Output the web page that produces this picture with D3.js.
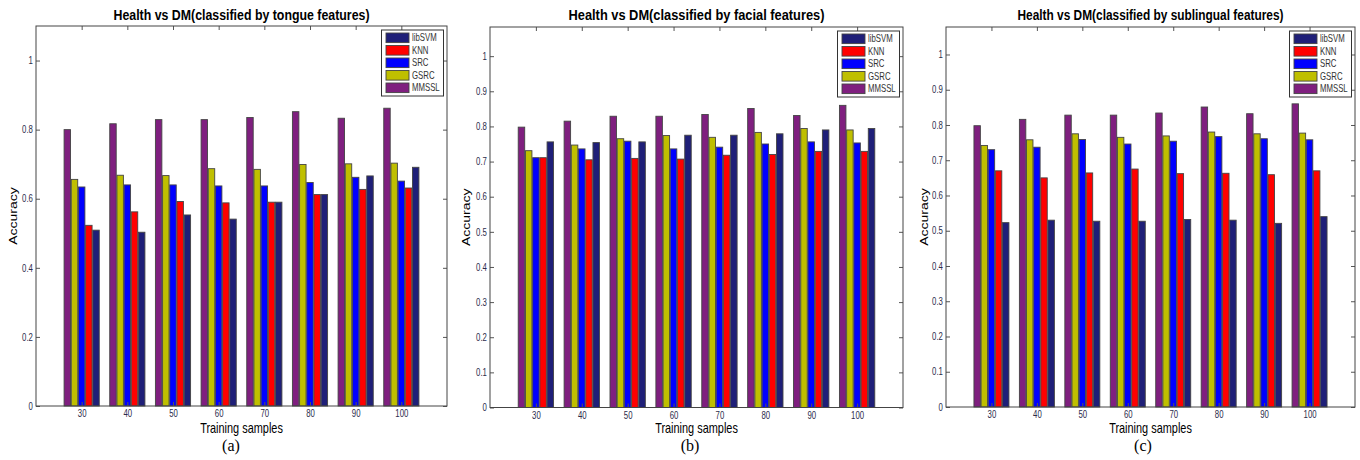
<!DOCTYPE html>
<html>
<head>
<meta charset="utf-8">
<script src="https://cdn.jsdelivr.net/npm/d3@7"></script>
<style>
  body { margin: 0; background: #fff; }
  svg { display: block; }
</style>
</head>
<body>
<script>
"use strict";

// data

const samples = [30, 40, 50, 60, 70, 80, 90, 100];
const methods = ['libSVM', 'KNN', 'SRC', 'GSRC', 'MMSSL'];
// bars are drawn in the reverse order of the legend
const barOrder = ['MMSSL', 'GSRC', 'SRC', 'KNN', 'libSVM'];
const methodColors = ['#1f1f78', '#ff0000', '#0000ff', '#bfbf00', '#7f1f7f'];

// rows follow `methods`
const tongueAcc = [
    [0.509, 0.503, 0.553, 0.541, 0.590, 0.612, 0.666, 0.691],
    [0.523, 0.562, 0.592, 0.588, 0.590, 0.612, 0.627, 0.631],
    [0.634, 0.640, 0.640, 0.637, 0.637, 0.647, 0.662, 0.651],
    [0.656, 0.668, 0.667, 0.687, 0.685, 0.699, 0.701, 0.703],
    [0.800, 0.817, 0.829, 0.829, 0.835, 0.852, 0.833, 0.862]
];
const facialAcc = [
    [0.756, 0.754, 0.756, 0.775, 0.775, 0.779, 0.790, 0.794],
    [0.711, 0.705, 0.709, 0.707, 0.718, 0.720, 0.729, 0.729],
    [0.711, 0.736, 0.758, 0.736, 0.741, 0.750, 0.756, 0.753],
    [0.731, 0.747, 0.765, 0.774, 0.769, 0.783, 0.794, 0.790],
    [0.798, 0.815, 0.829, 0.829, 0.834, 0.851, 0.831, 0.860]
];
const sublingualAcc = [
    [0.523, 0.530, 0.527, 0.527, 0.532, 0.530, 0.521, 0.540],
    [0.670, 0.650, 0.664, 0.675, 0.662, 0.663, 0.659, 0.670],
    [0.730, 0.737, 0.759, 0.746, 0.754, 0.767, 0.761, 0.758],
    [0.742, 0.758, 0.775, 0.765, 0.769, 0.780, 0.775, 0.777],
    [0.798, 0.816, 0.828, 0.828, 0.834, 0.851, 0.832, 0.860]
];

const tongueTicks = [0, 0.2, 0.4, 0.6, 0.8, 1];
const fineTicks = [0, 0.1, 0.2, 0.3, 0.4, 0.5, 0.6, 0.7, 0.8, 0.9, 1];

// layout

const W = 1360, H = 460;
const squeeze = 'scale(0.78,1)';   // the figure is narrowed horizontally
const sans = 'Liberation Sans, Arial, sans-serif';

const panels = [
    {title: 'Health vs DM(classified by tongue features)', titleW: 256, acc: tongueAcc, ticks: tongueTicks,
     yMax: 1.1, box: {l: 36, t: 26, r: 447, b: 406}, tag: '(a)', tagX: 231, ylabX: 17},
    {title: 'Health vs DM(classified by facial features)', titleW: 256, acc: facialAcc, ticks: fineTicks,
     yMax: 1.083, box: {l: 490, t: 27, r: 903, b: 407.5}, tag: '(b)', tagX: 690, ylabX: 470},
    {title: 'Health vs DM(classified by sublingual features)', titleW: 266, acc: sublingualAcc, ticks: fineTicks,
     yMax: 1.078, box: {l: 946, t: 27, r: 1355, b: 407}, tag: '(c)', tagX: 1143, ylabX: 928}
];

const svg = d3.select('body')
    .append('svg')
    .attr('width', W)
    .attr('height', H);

const color = d3.scaleOrdinal().domain(methods).range(methodColors);

const squeezeText = (sel) => {
    sel.each(function () {
        const t = d3.select(this);
        t.attr('transform', (t.attr('transform') || '') + ' ' + squeeze);
    });
};

panels.forEach((p) => {
    const b = p.box;
    const g = svg.append('g');

    const x = d3.scaleLinear().domain([0, samples.length + 1]).range([b.l, b.r]);
    const y = d3.scaleLinear().domain([0, p.yMax]).range([b.b, b.t]);
    const groupW = (x(1) - x(0)) * 0.77;
    const inner = d3.scaleBand()
        .domain(barOrder)
        .range([-groupW / 2, groupW / 2])
        .paddingInner(0.1);

    // bars
    const rows = [];
    samples.forEach((s, i) => {
        barOrder.forEach((m) => {
            rows.push({i: i, m: m, v: p.acc[methods.indexOf(m)][i]});
        });
    });
    g.selectAll('rect.bar')
        .data(rows)
        .enter()
        .append('rect')
        .attr('class', 'bar')
        .attr('x', (d) => x(d.i + 1) + inner(d.m))
        .attr('y', (d) => y(d.v))
        .attr('width', inner.bandwidth())
        .attr('height', (d) => y(0) - y(d.v))
        .attr('fill', (d) => color(d.m))
        .attr('stroke', '#444')
        .attr('stroke-width', 0.9);

    // axes, ticks pointing inwards
    const tickStyle = (sel) => {
        sel.select('.domain').remove();
        sel.selectAll('.tick line').attr('stroke', '#555');
        sel.selectAll('.tick text')
            .attr('fill', '#2b2b4b')
            .style('font-family', sans)
            .style('font-size', '10px');
    };
    g.append('g')
        .attr('transform', 'translate(' + b.l + ',0)')
        .call(d3.axisLeft(y).tickValues(p.ticks).tickSize(-4).tickPadding(4)
              .tickFormat((d) => d3.format('~g')(d)))
        .call(tickStyle)
        .selectAll('.tick text').call(squeezeText);
    g.append('g')
        .attr('transform', 'translate(' + b.r + ',0)')
        .call(d3.axisRight(y).tickValues(p.ticks).tickSize(-4).tickFormat(''))
        .call(tickStyle);
    g.append('g')
        .attr('transform', 'translate(0,' + b.b + ')')
        .call(d3.axisBottom(x).tickValues(d3.range(1, samples.length + 1))
              .tickSize(-4).tickPadding(4).tickFormat((d) => samples[d - 1]))
        .call(tickStyle)
        .selectAll('.tick text').call(squeezeText);
    g.append('g')
        .attr('transform', 'translate(0,' + b.t + ')')
        .call(d3.axisTop(x).tickValues(d3.range(1, samples.length + 1))
              .tickSize(-4).tickFormat(''))
        .call(tickStyle);

    // frame
    g.append('rect')
        .attr('x', b.l).attr('y', b.t)
        .attr('width', b.r - b.l).attr('height', b.b - b.t)
        .attr('fill', 'none')
        .attr('stroke', '#444')
        .attr('stroke-width', 1);

    // title and labels
    const cx = (b.l + b.r) / 2;
    g.append('text')
        .attr('x', cx)
        .attr('y', 19.5)
        .attr('text-anchor', 'middle')
        .attr('textLength', p.titleW)
        .attr('lengthAdjust', 'spacingAndGlyphs')
        .style('font-family', sans)
        .style('font-weight', 'bold')
        .style('font-size', '15px')
        .text(p.title);
    g.append('text')
        .attr('transform', 'translate(' + cx + ',433) ' + squeeze)
        .attr('text-anchor', 'middle')
        .style('font-family', sans)
        .style('font-size', '14px')
        .text('Training samples');
    g.append('text')
        .attr('transform', 'translate(' + p.ylabX + ',' + ((b.t + b.b) / 2) + ') ' + squeeze + ' rotate(-90)')
        .attr('text-anchor', 'middle')
        .style('font-family', sans)
        .style('font-size', '14px')
        .text('Accuracy');
    g.append('text')
        .attr('x', p.tagX)
        .attr('y', 451)
        .attr('text-anchor', 'middle')
        .style('font-family', 'Liberation Serif, Times New Roman, serif')
        .style('font-size', '16px')
        .text(p.tag);

    // legend
    const lw = 62, lh = 66;
    const lx = b.r - 3.5 - lw, ly = b.t + 4;
    const leg = g.append('g').attr('transform', 'translate(' + lx + ',' + ly + ')');
    leg.append('rect')
        .attr('width', lw).attr('height', lh)
        .attr('fill', '#fff')
        .attr('stroke', '#333')
        .attr('stroke-width', 1);
    const item = leg.selectAll('g.item')
        .data(methods)
        .enter()
        .append('g')
        .attr('class', 'item')
        .attr('transform', (d, i) => 'translate(4.5,' + (7.8 + i * 12.5) + ')');
    item.append('rect')
        .attr('y', -4.8)
        .attr('width', 23)
        .attr('height', 9.6)
        .attr('fill', (d) => color(d))
        .attr('stroke', '#444')
        .attr('stroke-width', 0.9);
    item.append('text')
        .attr('transform', 'translate(26,3.6) ' + squeeze)
        .attr('fill', '#333')
        .style('font-family', sans)
        .style('font-size', '10px')
        .text((d) => d);
});
</script>
</body>
</html>
